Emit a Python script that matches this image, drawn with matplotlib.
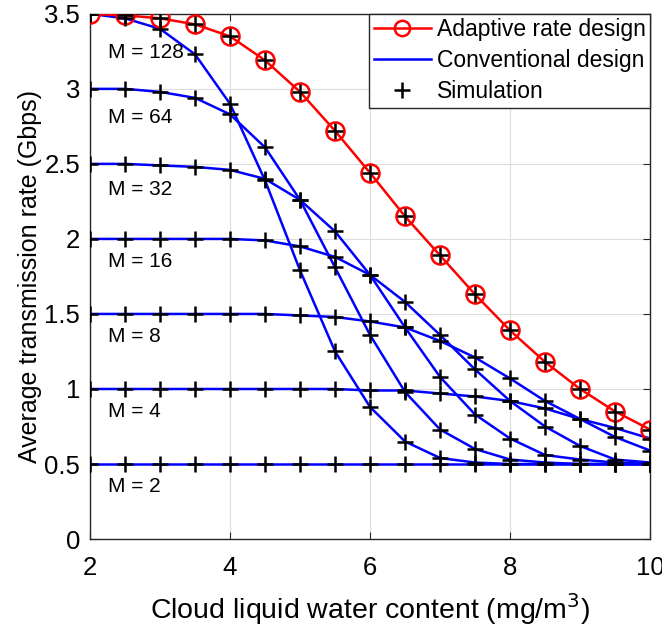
import matplotlib
matplotlib.use("Agg")
import matplotlib.pyplot as plt
import numpy as np
from matplotlib.ticker import FuncFormatter

plt.rcParams['font.family'] = ['Liberation Sans', 'DejaVu Sans']

# cloud liquid water content (mg/m^3)
lwc = [2, 2.5, 3, 3.5, 4, 4.5, 5, 5.5, 6, 6.5, 7, 7.5, 8, 8.5, 9, 9.5, 10]

adaptive = [3.50, 3.49, 3.47, 3.43, 3.35, 3.19, 2.98, 2.72, 2.44, 2.15,
            1.89, 1.63, 1.39, 1.18, 1.00, 0.85, 0.73]

conventional = {
    2:   [0.50] * 17,
    4:   [1.00, 1.00, 1.00, 1.00, 1.00, 1.00, 1.00, 1.00, 0.99, 0.99,
          0.97, 0.95, 0.92, 0.87, 0.80, 0.74, 0.67],
    8:   [1.50, 1.50, 1.50, 1.50, 1.50, 1.50, 1.49, 1.48, 1.45, 1.41,
          1.32, 1.21, 1.07, 0.92, 0.80, 0.68, 0.59],
    16:  [2.00, 2.00, 2.00, 2.00, 2.00, 1.99, 1.95, 1.88, 1.76, 1.58,
          1.36, 1.13, 0.92, 0.75, 0.62, 0.53, 0.51],
    32:  [2.50, 2.50, 2.49, 2.48, 2.46, 2.40, 2.26, 2.05, 1.76, 1.41,
          1.08, 0.83, 0.67, 0.56, 0.53, 0.51, 0.50],
    64:  [3.00, 3.00, 2.98, 2.94, 2.83, 2.61, 2.26, 1.81, 1.36, 0.98,
          0.73, 0.60, 0.53, 0.51, 0.50, 0.50, 0.50],
    128: [3.50, 3.47, 3.40, 3.23, 2.90, 2.39, 1.79, 1.25, 0.88, 0.65,
          0.54, 0.51, 0.50, 0.50, 0.50, 0.50, 0.50],
}

# where the "M = ..." annotations sit
label_x = 2.26
label_y = {128: 3.24, 64: 2.81, 32: 2.33, 16: 1.85, 8: 1.35, 4: 0.85, 2: 0.35}

fig = plt.figure(figsize=(6.62, 6.29), dpi=100)
ax = fig.add_axes([0.136, 0.143, 0.846, 0.835])

for M, rate in conventional.items():
    ax.plot(lwc, rate, color='#0000ff', lw=1.8, zorder=2)
    ax.plot(lwc, rate, ls='none', marker='+', color='k', ms=12, mew=1.8, zorder=4)
    ax.text(label_x, label_y[M], "M = %d" % M, fontsize=15, va='center', ha='left')

ax.plot(lwc, adaptive, color='#ff0000', lw=1.8, marker='o', ms=13,
        mfc='none', mec='#ff0000', mew=1.8, zorder=3)
ax.plot(lwc, adaptive, ls='none', marker='+', color='k', ms=12, mew=1.8, zorder=4)

# legend proxies
h1, = ax.plot([], [], color='#ff0000', lw=1.8, marker='o', ms=11, mfc='none', mew=1.8)
h2, = ax.plot([], [], color='#0000ff', lw=1.8)
h3, = ax.plot([], [], ls='none', marker='+', color='k', ms=12, mew=1.8)
leg = ax.legend([h1, h2, h3], ["Adaptive rate design", "Conventional design", "Simulation"],
                loc='upper right', fontsize=16.5, fancybox=False, framealpha=1,
                edgecolor='#262626', borderaxespad=0.0, handlelength=2.5,
                labelspacing=0.35, borderpad=0.2, handletextpad=0.25)
leg.get_frame().set_linewidth(1.0)

ax.set_xlim(2, 10)
ax.set_ylim(0, 3.5)
ax.set_xticks([2, 4, 6, 8, 10])
ax.set_yticks(np.arange(0, 3.51, 0.5))
ax.yaxis.set_major_formatter(FuncFormatter(lambda v, p: "%g" % v))
ax.tick_params(direction='in', top=True, right=True, labelsize=18.5, length=5,
               color='#262626')
ax.tick_params(axis='x', pad=12)
ax.tick_params(axis='y', pad=7)
ax.grid(True, color='#dcdcdc', lw=0.8)
ax.set_axisbelow(True)
for s in ax.spines.values():
    s.set_color('#262626')
    s.set_linewidth(1.0)

ax.set_xlabel("Cloud liquid water content (mg/m$^3$)", fontsize=20.5, labelpad=8)
ax.set_ylabel("Average transmission rate (Gbps)", fontsize=18, labelpad=2)

fig.savefig("out.png", dpi=100)
